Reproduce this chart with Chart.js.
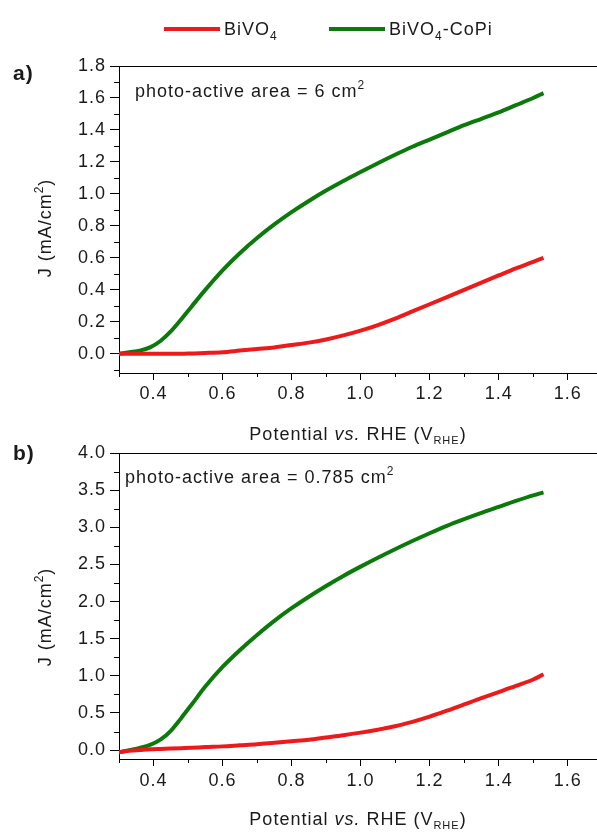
<!DOCTYPE html>
<html>
<head>
<meta charset="utf-8">
<script src="https://cdn.jsdelivr.net/npm/chart.js@4.4.1/dist/chart.umd.min.js"></script>
<style>
  html, body { margin: 0; padding: 0; background: #fff; }
  body { position: relative; width: 597px; height: 832px; overflow: hidden; }
  canvas { position: absolute; left: 0; }
</style>
</head>
<body>
<canvas id="chart-a" width="597" height="460" style="top:0"></canvas>
<canvas id="chart-b" width="597" height="432" style="top:400px"></canvas>
<script>
// J-V curves, BiVO4 vs BiVO4-CoPi

const potential = [0.30, 0.33, 0.36, 0.39, 0.42, 0.45, 0.48, 0.51, 0.55, 0.60,
  0.65, 0.70, 0.75, 0.80, 0.85, 0.90, 0.95, 1.00, 1.05, 1.10,
  1.15, 1.20, 1.25, 1.30, 1.35, 1.40, 1.45, 1.50, 1.53];

// a) photo-active area = 6 cm2
const bivo4A = [0.00, 0.00, 0.00, 0.00, 0.00, 0.00, 0.00, 0.002, 0.005, 0.01,
  0.02, 0.03, 0.04, 0.055, 0.07, 0.09, 0.115, 0.145, 0.18, 0.22,
  0.265, 0.31, 0.355, 0.40, 0.445, 0.49, 0.535, 0.575, 0.60];
const bivo4CopiA = [0.00, 0.01, 0.02, 0.04, 0.08, 0.14, 0.215, 0.295, 0.40, 0.522,
  0.629, 0.724, 0.809, 0.886, 0.956, 1.021, 1.081, 1.137, 1.192, 1.245,
  1.295, 1.34, 1.385, 1.43, 1.47, 1.51, 1.555, 1.60, 1.63];

// b) photo-active area = 0.785 cm2
const bivo4B = [-0.03, -0.01, 0.00, 0.01, 0.015, 0.02, 0.025, 0.03, 0.04, 0.05,
  0.065, 0.08, 0.10, 0.12, 0.14, 0.17, 0.20, 0.235, 0.275, 0.32,
  0.38, 0.45, 0.53, 0.615, 0.70, 0.78, 0.865, 0.95, 1.02];
const bivo4CopiB = [-0.03, 0.00, 0.03, 0.07, 0.14, 0.26, 0.43, 0.61, 0.855, 1.12,
  1.345, 1.55, 1.74, 1.91, 2.065, 2.21, 2.345, 2.47, 2.59, 2.705,
  2.815, 2.92, 3.02, 3.11, 3.195, 3.275, 3.355, 3.43, 3.47];

const potentialTicks = [0.4, 0.6, 0.8, 1.0, 1.2, 1.4, 1.6];
const currentTicksA = [0.0, 0.2, 0.4, 0.6, 0.8, 1.0, 1.2, 1.4, 1.6, 1.8];
const currentTicksB = [0.0, 0.5, 1.0, 1.5, 2.0, 2.5, 3.0, 3.5, 4.0];

const RED = '#ec1a1a';
const GREEN = '#0b7a0b';
const FONT = '"Liberation Sans", Arial, sans-serif';

// dibuja texto con partes de distinto tamaño (sub/superindices)
function drawRich(ctx, parts, x, y, align) {
  let total = 0;
  parts.forEach(p => {
    ctx.font = `${p.style || ''} ${p.size}px ${FONT}`;
    p.w = ctx.measureText(p.text).width;
    total += p.w;
  });
  let cx = align === 'center' ? x - total / 2 : x;
  parts.forEach(p => {
    ctx.font = `${p.style || ''} ${p.size}px ${FONT}`;
    ctx.fillText(p.text, cx, y + (p.dy || 0));
    cx += p.w;
  });
}

function minorValues(major, min, max) {
  const out = [];
  const step = major[1] - major[0];
  const first = major[0] - step / 2;
  if (first >= min) out.push(first);
  for (let i = 0; i < major.length; i++) {
    const m = major[i] + step / 2;
    if (m <= max) out.push(m);
  }
  return out;
}

function makeDecor(cfg) {
  return {
    id: 'decor',
    beforeDraw(chart) {
      chart.ctx.letterSpacing = '1px';
    },
    afterDraw(chart) {
      const ctx = chart.ctx;
      const area = chart.chartArea;
      const xs = chart.scales.x;
      const ys = chart.scales.y;
      ctx.save();
      ctx.letterSpacing = '1px';
      ctx.strokeStyle = '#000';
      ctx.lineWidth = 1;

      // borde superior
      ctx.beginPath();
      ctx.moveTo(area.left, area.top + 0.5);
      ctx.lineTo(area.right, area.top + 0.5);
      ctx.stroke();

      // ticks menores
      ctx.beginPath();
      minorValues(potentialTicks, xs.min, xs.max).forEach(v => {
        const px = Math.round(xs.getPixelForValue(v)) + 0.5;
        ctx.moveTo(px, area.bottom);
        ctx.lineTo(px, area.bottom + 4);
      });
      minorValues(cfg.yTicks, ys.min, ys.max).forEach(v => {
        const py = Math.round(ys.getPixelForValue(v)) + 0.5;
        ctx.moveTo(area.left, py);
        ctx.lineTo(area.left - 5, py);
      });
      ctx.stroke();

      ctx.fillStyle = '#1a1a1a';
      ctx.textBaseline = 'alphabetic';

      // etiqueta del panel
      ctx.font = `bold 21px ${FONT}`;
      ctx.fillText(cfg.panel, 13, cfg.panelY);

      // nota del area
      drawRich(ctx, [
        { text: cfg.note, size: 18 },
        { text: '2', size: 12, dy: -8 }
      ], cfg.noteX, cfg.noteY, 'left');

      // titulo eje x
      drawRich(ctx, [
        { text: 'Potential ', size: 18 },
        { text: 'vs.', size: 18, style: 'italic' },
        { text: ' RHE (V', size: 18 },
        { text: 'RHE', size: 11, dy: 4 },
        { text: ')', size: 18 }
      ], (area.left + area.right) / 2, cfg.xTitleY, 'center');

      // titulo eje y
      ctx.save();
      ctx.translate(cfg.yTitleX, cfg.yTitleY);
      ctx.rotate(-Math.PI / 2);
      ctx.textBaseline = 'middle';
      drawRich(ctx, [
        { text: 'J (mA/cm', size: 18 },
        { text: '2', size: 12, dy: -6 },
        { text: ')', size: 18 }
      ], 0, 0, 'center');
      ctx.restore();

      // leyenda
      if (cfg.legend) {
        const items = chart.data.datasets;
        const pos = [164, 329];
        items.forEach((ds, i) => {
          ctx.strokeStyle = ds.borderColor;
          ctx.lineWidth = 4;
          ctx.beginPath();
          ctx.moveTo(pos[i], 29);
          ctx.lineTo(pos[i] + 56, 29);
          ctx.stroke();
          const parts = [{ text: 'BiVO', size: 18 }, { text: '4', size: 12, dy: 5 }];
          if (i === 1) parts.push({ text: '-CoPi', size: 18 });
          drawRich(ctx, parts, pos[i] + 60, 35, 'left');
        });
      }
      ctx.restore();
    }
  };
}

function buildPanel(canvasId, red, green, cfg) {
  const canvas = document.getElementById(canvasId);
  const ctx = canvas.getContext('2d');
  const toPoints = vals => potential.map((p, i) => ({ x: p, y: vals[i] }));

  return new Chart(ctx, {
    type: 'line',
    data: {
      datasets: [
        {
          label: 'BiVO4',
          data: toPoints(red),
          borderColor: RED,
          borderWidth: 4,
          pointRadius: 0,
          cubicInterpolationMode: 'monotone',
          fill: false
        },
        {
          label: 'BiVO4-CoPi',
          data: toPoints(green),
          borderColor: GREEN,
          borderWidth: 4,
          pointRadius: 0,
          cubicInterpolationMode: 'monotone',
          fill: false
        }
      ]
    },
    options: {
      responsive: false,
      animation: false,
      layout: { padding: { top: cfg.top, right: 0, bottom: 0, left: 0 } },
      plugins: {
        legend: { display: false },
        tooltip: { enabled: false }
      },
      scales: {
        x: {
          type: 'linear',
          min: 0.3,
          max: 1.685,
          afterBuildTicks: scale => {
            scale.ticks = potentialTicks.map(v => ({ value: v }));
          },
          afterFit: scale => {
            scale.height = canvas.height - cfg.bottom;
          },
          ticks: {
            color: '#1a1a1a',
            font: { family: FONT, size: 18 },
            padding: cfg.xPad,
            maxRotation: 0,
            autoSkip: false,
            callback: v => v.toFixed(1)
          },
          grid: {
            drawOnChartArea: false,
            drawTicks: true,
            tickLength: 7,
            tickColor: '#000',
            tickWidth: 1
          },
          border: { display: true, color: '#000', width: 1 }
        },
        y: {
          type: 'linear',
          min: -0.12,
          max: cfg.yMax,
          afterBuildTicks: scale => {
            scale.ticks = cfg.yTicks.map(v => ({ value: v }));
          },
          afterFit: scale => {
            scale.width = 119;
          },
          ticks: {
            color: '#1a1a1a',
            font: { family: FONT, size: 18 },
            padding: 4,
            autoSkip: false,
            callback: v => v.toFixed(1)
          },
          grid: {
            drawOnChartArea: false,
            drawTicks: true,
            tickLength: 9,
            tickColor: '#000',
            tickWidth: 1
          },
          border: { display: true, color: '#000', width: 1 }
        }
      }
    },
    plugins: [makeDecor(cfg)]
  });
}

buildPanel('chart-a', bivo4A, bivo4CopiA, {
  top: 66, bottom: 373, yMax: 1.8, yTicks: currentTicksA, xPad: 3,
  panel: 'a)', panelY: 80,
  note: 'photo-active area = 6 cm', noteX: 135, noteY: 97,
  xTitleY: 440, yTitleX: 46, yTitleY: 228,
  legend: true
});

buildPanel('chart-b', bivo4B, bivo4CopiB, {
  top: 53, bottom: 359, yMax: 4.0, yTicks: currentTicksB, xPad: 4,
  panel: 'b)', panelY: 60,
  note: 'photo-active area = 0.785 cm', noteX: 125, noteY: 83,
  xTitleY: 425, yTitleX: 46, yTitleY: 217,
  legend: false
});
</script>
</body>
</html>
